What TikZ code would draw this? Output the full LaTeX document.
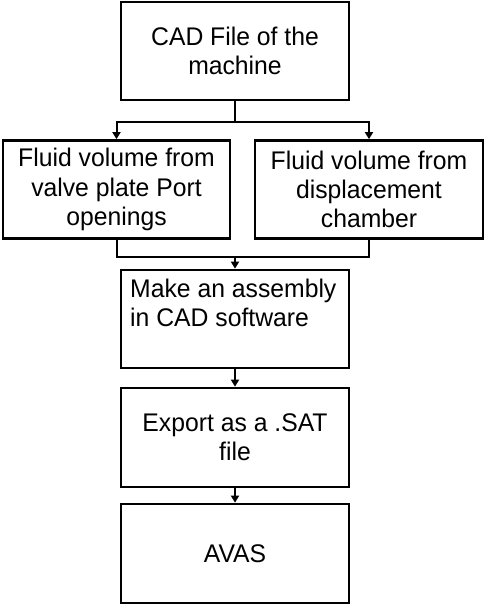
\documentclass[tikz,border=0pt]{standalone}
\usepackage{fontspec}
\setmainfont{Liberation Sans}[FakeStretch=0.97]
\usetikzlibrary{arrows.meta}
\begin{document}
\begin{tikzpicture}[x=1pt,y=-1pt,
  txt/.style={font=\fontsize{25.5}{29.3}\selectfont},
  box/.style={draw, line width=2.7pt, minimum width=228pt, minimum height=98pt, inner sep=0pt, align=center, txt},
  conn/.style={line width=2pt},
  arr/.style={conn, -{Triangle[length=7pt,width=8pt]}}]
\useasboundingbox (0,0) rectangle (489,605);
\node[box] (top) at (235,51) {CAD File of the\\machine};
\node[box, minimum width=227pt] (left) at (116.5,189.5) {Fluid volume from\\valve plate Port\\openings};
\node[box] (right) at (369,189.5) {Fluid volume from\\displacement\\chamber};
\node[box] (mid) at (235,319) {};
\node[txt, anchor=north west, inner sep=0pt, align=left] (midtext) at (130,278.5) {Make an assembly\\in CAD software};
\node[box, minimum height=99pt] (exp) at (235,437.5) {Export as a .SAT\\file};
\node[box, minimum height=99pt] (avas) at (235,553.5) {AVAS};
\coordinate (j1) at (235,122);
\coordinate (j2) at (235,257);
\draw[conn] (top.south) -- (j1);
\draw[arr] (j1) -| (left.north);
\draw[arr] (j1) -| (right.north);
\draw[conn] (left.south) |- (j2);
\draw[conn] (right.south) |- (j2);
\draw[arr] (j2) -- (mid.north);
\draw[arr] (mid.south) -- (exp.north);
\draw[arr] (exp.south) -- (avas.north);
\end{tikzpicture}
\end{document}
